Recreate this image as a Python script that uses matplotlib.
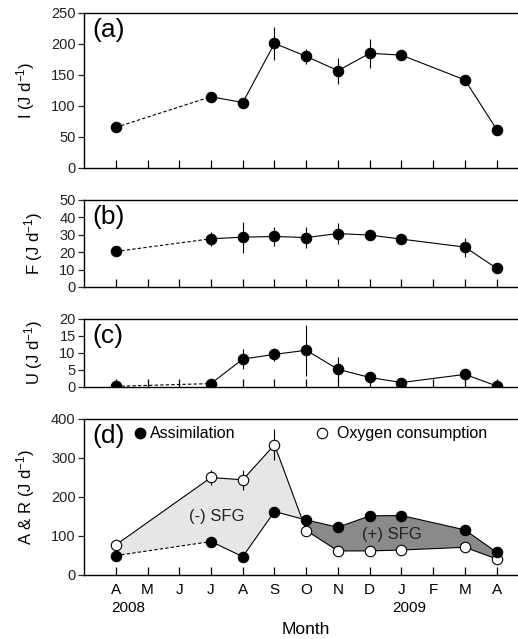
import matplotlib
matplotlib.use("Agg")
import matplotlib.pyplot as plt
import numpy as np

plt.rcParams['font.family'] = ['Liberation Sans', 'DejaVu Sans']
plt.rcParams['mathtext.fontset'] = 'custom'
plt.rcParams['mathtext.rm'] = 'Liberation Sans'
plt.rcParams['mathtext.default'] = 'rm'

months = ["A", "M", "J", "J", "A", "S", "O", "N", "D", "J", "F", "M", "A"]
# sampled months (index in months list)
sample_idx = [0, 3, 4, 5, 6, 7, 8, 9, 11, 12]

ingestion = [65.5, 115, 105.5, 201, 180, 157, 185, 182, 142, 62]
ingestion_err = [0, 3, 6, 27, 12, 21, 23, 3, 5, 0]

faeces = [20.4, 27.7, 28.6, 29.0, 28.4, 30.7, 29.8, 27.5, 22.9, 10.7]
faeces_err = [0, 4, 9, 5.5, 6, 6, 3, 2.5, 5.5, 1]

excretion = [0.2, 1.0, 8.2, 9.6, 10.8, 5.2, 2.8, 1.3, 3.7, 0.3]
excretion_err = [1.5, 0.5, 3, 2, 7.5, 3.5, 1, 0.5, 1.2, 0.3]

assimilation = [49.7, 85.7, 47, 162.7, 141, 122.5, 151.6, 152.5, 115.6, 58]
assimilation_err = [0, 5, 5, 5, 5, 5, 5, 5, 5, 5]
oxygen = [77, 250, 244, 334, 114, 61.7, 61.7, 64, 71, 41]
oxygen_err = [0, 19, 25, 40, 5, 3, 3, 3, 3, 3]

x = np.array(sample_idx, dtype=float)

fig = plt.figure(figsize=(5.18, 6.39), dpi=100)
left = 0.1622
width = 0.858
ax_a = fig.add_axes([left, 0.7371, width, 0.2426])
ax_b = fig.add_axes([left, 0.5509, width, 0.1362])
ax_c = fig.add_axes([left, 0.3944, width, 0.1064])
ax_d = fig.add_axes([left, 0.1002, width, 0.2441])


def draw_series(ax, y, err, filled=True, dashed_start=True):
    y = np.array(y)
    fc = "black" if filled else "white"
    ax.errorbar(x, y, yerr=err, fmt="none", ecolor="black", elinewidth=0.8,
                capsize=0, zorder=2)
    ls0 = (0, (3, 2)) if dashed_start else "-"
    ax.plot(x[:2], y[:2], ls=ls0, color="black", lw=0.8, zorder=2)
    ax.plot(x[1:], y[1:], ls="-", color="black", lw=0.8, zorder=2)
    ax.plot(x, y, ls="none", marker="o", markersize=7.5, mfc=fc,
            mec="black", mew=0.8, zorder=3)


def style(ax, ymax, step, label, tag):
    ax.set_xlim(-1, 13)
    ax.set_ylim(0, ymax)
    ax.set_yticks(np.arange(0, ymax + 1, step))
    ax.set_xticks(range(13))
    ax.spines['right'].set_visible(False)
    for s in ax.spines.values():
        s.set_linewidth(1.0)
    ax.tick_params(axis="x", direction="in", length=6, width=0.9,
                   labelbottom=False)
    ax.tick_params(axis="y", direction="out", length=4, width=0.9,
                   labelsize=10.5, pad=2, colors="#222222")
    ax.set_ylabel(label, fontsize=12, labelpad=10)
    ax.annotate(tag, xy=(0, 1), xycoords="axes fraction",
                xytext=(8, -5), textcoords="offset pixels",
                fontsize=19, va="top", ha="left")


draw_series(ax_a, ingestion, ingestion_err)
style(ax_a, 250, 50, "I (J d$^{-1}$)", "(a)")

draw_series(ax_b, faeces, faeces_err)
style(ax_b, 50, 10, "F (J d$^{-1}$)", "(b)")

draw_series(ax_c, excretion, excretion_err)
style(ax_c, 20, 5, "U (J d$^{-1}$)", "(c)")

# panel d
A = np.array(assimilation)
R = np.array(oxygen)
ax_d.fill_between(x, A, R, where=R >= A, interpolate=True,
                  facecolor="#e6e6e6", edgecolor="none", zorder=1)
ax_d.fill_between(x, A, R, where=A >= R, interpolate=True,
                  facecolor="#8a8a8a", edgecolor="none", zorder=1)
draw_series(ax_d, oxygen, oxygen_err, filled=False, dashed_start=False)
draw_series(ax_d, assimilation, assimilation_err, filled=True)
style(ax_d, 400, 100, "A & R (J d$^{-1}$)", "(d)")
ax_d.tick_params(axis="x", labelbottom=True, labelsize=11, pad=6,
                 colors="black")
ax_d.set_xticklabels(months)
ax_d.text(-0.15, -0.17, "2008", transform=ax_d.get_xaxis_transform(),
          fontsize=11, ha="left", va="top")
ax_d.text(8.72, -0.17, "2009", transform=ax_d.get_xaxis_transform(),
          fontsize=11, ha="left", va="top")
ax_d.set_xlabel("Month", fontsize=12.5, labelpad=18)

ax_d.text(3.18, 151, "(-) SFG", fontsize=12, ha="center", va="center",
          color="#222222")
ax_d.text(8.69, 103, "(+) SFG", fontsize=12, ha="center", va="center",
          color="#222222")

# legend
ax_d.plot([0.76], [363], ls="none", marker="o", markersize=7.5, mfc="black",
          mec="black")
ax_d.text(1.07, 363, "Assimilation", fontsize=11.5, va="center", ha="left")
ax_d.plot([6.49], [363], ls="none", marker="o", markersize=7.5, mfc="white",
          mec="black", mew=0.8)
ax_d.text(6.96, 363, "Oxygen consumption", fontsize=11.5, va="center",
          ha="left")

fig.savefig("out.png", dpi=100)
